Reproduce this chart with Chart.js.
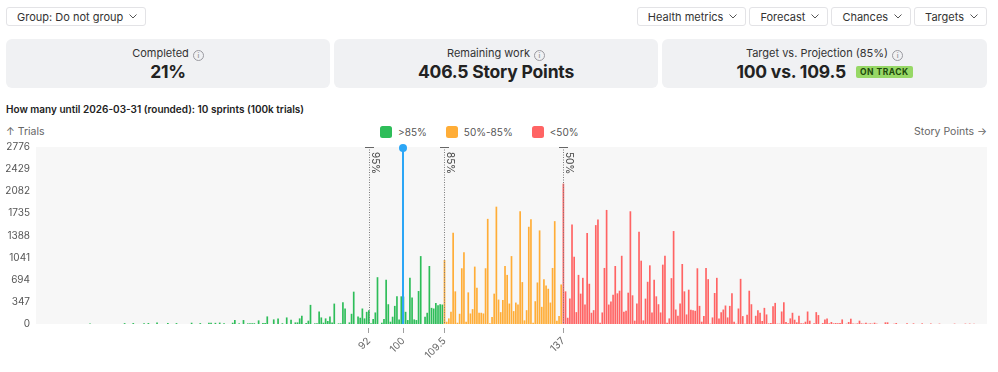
<!DOCTYPE html>
<html>
<head>
<meta charset="utf-8">
<title>Forecast</title>
<script src="https://cdn.jsdelivr.net/npm/chart.js@4.4.1/dist/chart.umd.min.js"></script>
<style>
  body { margin: 0; width: 998px; height: 372px; overflow: hidden; background: #fff; position: relative;
         font-family: Inter, "Noto Sans", sans-serif; color: #222; }
  .btn { position: absolute; top: 7px; height: 19px; box-sizing: border-box; border: 1px solid #e3e3e6; border-radius: 3px;
         background: #fff; font-size: 11px; color: #333; display: flex; align-items: center; gap: 6px;
         padding: 0 8px 0 10px; white-space: nowrap; }
  .toolbar-right { position: absolute; top: 7px; right: 11px; display: flex; gap: 3px; }
  .toolbar-right .btn { position: static; }
  .chev { width: 8px; height: 5px; }
  .card { position: absolute; top: 39px; height: 49px; background: #f0f1f3; border-radius: 6px; }
  .card-title { position: absolute; top: 7px; left: 0; right: 0; text-align: center; font-size: 11px; line-height: 14px; color: #333; }
  .card-value { position: absolute; top: 22px; left: 0; right: 0; display: flex; justify-content: center; align-items: center;
                font-size: 17.5px; line-height: 22px; font-weight: 700; color: #222; letter-spacing: -0.2px; }
  .info { display: inline-block; width: 9px; height: 9px; border: 1px solid #9a9aa0; border-radius: 50%; color: #9a9aa0;
          font-size: 7px; line-height: 9px; text-align: center; margin-left: 4px; vertical-align: -1px; font-weight: 600; }
  .badge { margin-left: 10px; background: #97d866; color: #1e4a0c; font-size: 8.5px; font-weight: 700; letter-spacing: 0.5px;
           line-height: 12px; padding: 0 4px; border-radius: 2px; }
  .chart-title { position: absolute; top: 103px; left: 6px; font-size: 10px; line-height: 12px; font-weight: 600; color: #222; }
  .legend-row { position: absolute; top: 124px; left: 6px; right: 11px; height: 15px; display: flex;
                justify-content: space-between; align-items: center; font-size: 10.5px; color: #666; }
  .legend { display: flex; gap: 19px; font-size: 10px; }
  .legend-item { display: flex; align-items: center; gap: 6px; color: #555; }
  .legend-box { width: 12px; height: 12px; border-radius: 2.5px; }
  .chart-wrap { position: absolute; top: 135px; left: 0; width: 998px; height: 237px; }
</style>
</head>
<body>
<div class="btn" style="left:6px">Group: Do not group <svg class="chev" viewBox="0 0 8 5"><polyline points="0.5,0.5 4,4 7.5,0.5" fill="none" stroke="#555" stroke-width="1"/></svg></div>
<div class="toolbar-right">
  <div class="btn">Health metrics <svg class="chev" viewBox="0 0 8 5"><polyline points="0.5,0.5 4,4 7.5,0.5" fill="none" stroke="#555" stroke-width="1"/></svg></div>
  <div class="btn">Forecast <svg class="chev" viewBox="0 0 8 5"><polyline points="0.5,0.5 4,4 7.5,0.5" fill="none" stroke="#555" stroke-width="1"/></svg></div>
  <div class="btn">Chances <svg class="chev" viewBox="0 0 8 5"><polyline points="0.5,0.5 4,4 7.5,0.5" fill="none" stroke="#555" stroke-width="1"/></svg></div>
  <div class="btn">Targets <svg class="chev" viewBox="0 0 8 5"><polyline points="0.5,0.5 4,4 7.5,0.5" fill="none" stroke="#555" stroke-width="1"/></svg></div>
</div>

<div class="card" style="left:6px;width:324px">
  <div class="card-title">Completed<span class="info">i</span></div>
  <div class="card-value">21%</div>
</div>
<div class="card" style="left:334px;width:324px">
  <div class="card-title">Remaining work<span class="info">i</span></div>
  <div class="card-value">406.5 Story Points</div>
</div>
<div class="card" style="left:662px;width:325px">
  <div class="card-title">Target vs. Projection (85%)<span class="info">i</span></div>
  <div class="card-value">100 vs. 109.5<span class="badge">ON TRACK</span></div>
</div>

<div class="chart-title">How many until 2026-03-31 (rounded): 10 sprints (100k trials)</div>
<div class="legend-row">
  <span>↑ Trials</span>
  <div class="legend" id="legend"></div>
  <span>Story Points →</span>
</div>
<div class="chart-wrap"><canvas id="forecastChart"></canvas></div>

<script>
// histogram bins: story points from binStart, every binStep
const binStart = 15.5
const binStep = 0.5
// trials per bin (10 bins per row)
const trials = [
    0, 0, 0, 0, 0, 0, 0, 0, 0, 0,                       // 15.5 - 20
    0, 0, 0, 0, 0, 0, 0, 0, 0, 0,                       // 20.5 - 25
    0, 0, 0, 0, 8, 0, 0, 0, 0, 0,                       // 25.5 - 30
    0, 0, 0, 0, 0, 0, 0, 0, 0, 0,                       // 30.5 - 35
    14, 0, 0, 0, 15, 0, 0, 0, 0, 10,                    // 35.5 - 40
    0, 15, 0, 0, 0, 24, 0, 0, 0, 0,                     // 40.5 - 45
    15, 0, 0, 0, 14, 0, 0, 0, 0, 0,                     // 45.5 - 50
    0, 20, 0, 0, 0, 14, 0, 0, 0, 18,                    // 50.5 - 55
    20, 0, 18, 0, 22, 0, 12, 0, 0, 0,                   // 55.5 - 60
    20, 62, 0, 10, 0, 62, 0, 10, 12, 10,                // 60.5 - 65
    12, 0, 57, 0, 14, 14, 119, 0, 0, 72,                // 65.5 - 70
    0, 88, 0, 12, 0, 103, 0, 67, 0, 25,                 // 70.5 - 75
    25, 88, 129, 0, 16, 52, 300, 0, 10, 10,             // 75.5 - 80
    196, 103, 20, 88, 47, 119, 25, 320, 0, 10,          // 80.5 - 85
    10, 341, 243, 0, 25, 160, 507, 0, 119, 98,          // 85.5 - 90
    243, 88, 191, 217, 10, 78, 181, 734, 0, 20,         // 90.5 - 95
    78, 693, 310, 36, 114, 284, 434, 72, 434, 430,      // 95.5 - 100
    191, 62, 724, 414, 72, 62, 517, 1065, 0, 114,       // 100.5 - 105
    176, 910, 253, 243, 331, 295, 310, 305, 1003, 36,   // 105.5 - 110
    88, 191, 1432, 512, 20, 160, 874, 1127, 36, 496,    // 110.5 - 115
    165, 233, 900, 569, 176, 176, 165, 874, 1649, 10,   // 115.5 - 120
    109, 476, 1840, 383, 186, 377, 910, 770, 321, 1065, // 120.5 - 125
    202, 336, 305, 1768, 657, 57, 217, 1525, 1644, 20,  // 125.5 - 130
    357, 651, 1468, 269, 703, 605, 553, 336, 879, 1613, // 130.5 - 135
    52, 124, 620, 2202, 512, 98, 398, 1561, 1055, 186,  // 135.5 - 140
    770, 476, 724, 305, 1427, 631, 176, 217, 1551, 1639,// 140.5 - 145
    21, 181, 879, 1789, 305, 352, 460, 910, 481, 522,   // 145.5 - 150
    1070, 191, 207, 491, 1768, 450, 52, 321, 1448, 993, // 150.5 - 155
    57, 398, 662, 920, 181, 693, 434, 310, 181, 931,    // 155.5 - 160
    1070, 21, 88, 719, 1458, 227, 129, 321, 941, 512,   // 160.5 - 165
    150, 538, 222, 217, 207, 874, 284, 36, 124, 879,    // 165.5 - 170
    703, 5, 103, 486, 724, 88, 186, 227, 290, 103,      // 170.5 - 175
    284, 481, 36, 5, 243, 708, 124, 5, 145, 522,        // 175.5 - 180
    310, 5, 129, 217, 176, 47, 253, 150, 10, 15,        // 180.5 - 185
    279, 331, 5, 5, 196, 341, 31, 10, 88, 176,          // 185.5 - 190
    67, 26, 129, 10, 10, 36, 196, 52, 0, 10,            // 190.5 - 195
    186, 140, 0, 15, 72, 88, 10, 31, 10, 15,            // 195.5 - 200
    10, 15, 72, 0, 5, 31, 83, 8, 5, 10,                 // 200.5 - 205
    52, 10, 5, 20, 5, 10, 5, 20, 5, 0,                  // 205.5 - 210
    0, 0, 26, 26, 0, 0, 5, 15, 0, 0,                    // 210.5 - 215
    0, 0, 10, 0, 0, 10, 0, 0, 0, 10,                    // 215.5 - 220
    0, 0, 0, 8, 0, 0, 0, 6, 0, 0,                       // 220.5 - 225
    0, 0, 0, 0, 6, 0, 0, 0, 0, 6,                       // 225.5 - 230
    0, 6, 0, 5, 0, 0, 0, 0, 0                           // 230.5 - 234.5
]

const percentileLabels = ['95%', '85%', '50%']
const percentileValues = [92, 109.5, 137]
const targetValue = 100
const xTickValues = [92, 100, 109.5, 137]
const yMax = 2776
const yStep = 347

const zones = [
    { label: '>85%', color: '#2ebd59', from: -Infinity, to: percentileValues[1] },
    { label: '50%-85%', color: '#ffad37', from: percentileValues[1], to: percentileValues[2] },
    { label: '<50%', color: '#ff6464', from: percentileValues[2], to: Infinity },
]
const targetColor = '#2ba6f6'

const points = trials.map((t, i) => ({ x: binStart + i * binStep, y: t }))

const plotBackground = {
    id: 'plotBackground',
    beforeDatasetsDraw(chart) {
        const { ctx, chartArea } = chart
        ctx.save()
        ctx.fillStyle = '#f7f7f7'
        ctx.fillRect(chartArea.left, chartArea.top, chartArea.right - chartArea.left, chartArea.bottom - chartArea.top)
        ctx.restore()
    }
}

const markerLines = {
    id: 'markerLines',
    afterDatasetsDraw(chart) {
        const { ctx, chartArea, scales } = chart
        ctx.save()
        percentileValues.forEach((v, i) => {
            const px = Math.round(scales.x.getPixelForValue(v)) + 0.5
            ctx.strokeStyle = '#7a7a7a'
            ctx.lineWidth = 1
            ctx.setLineDash([1, 1.5])
            ctx.beginPath()
            ctx.moveTo(px, chartArea.top)
            ctx.lineTo(px, chartArea.bottom)
            ctx.stroke()
            ctx.setLineDash([])
            ctx.strokeStyle = '#666'
            ctx.beginPath()
            ctx.moveTo(px - 4.5, chartArea.top + 0.5)
            ctx.lineTo(px + 4.5, chartArea.top + 0.5)
            ctx.stroke()
            ctx.save()
            ctx.translate(px + 2.5, chartArea.top + 5)
            ctx.rotate(Math.PI / 2)
            ctx.fillStyle = '#444'
            ctx.font = '10px Inter'
            ctx.textAlign = 'left'
            ctx.textBaseline = 'alphabetic'
            ctx.fillText(percentileLabels[i], 0, 0)
            ctx.restore()
        })
        const tx = Math.round(scales.x.getPixelForValue(targetValue))
        ctx.strokeStyle = targetColor
        ctx.lineWidth = 2
        ctx.beginPath()
        ctx.moveTo(tx, chartArea.top)
        ctx.lineTo(tx, chartArea.bottom)
        ctx.stroke()
        ctx.fillStyle = targetColor
        ctx.beginPath()
        ctx.arc(tx, chartArea.top + 1, 4, 0, Math.PI * 2)
        ctx.fill()
        ctx.restore()
    }
}

Chart.defaults.font.family = 'Inter'
const ctx = document.getElementById('forecastChart')
const forecastChart = new Chart(ctx, {
    type: 'bar',
    data: {
        datasets: zones.map(z => ({
            label: z.label,
            data: points.filter(p => p.x >= z.from && p.x < z.to),
            backgroundColor: z.color,
            grouped: false,
            barPercentage: 1,
            categoryPercentage: 0.78,
        }))
    },
    options: {
        responsive: true,
        maintainAspectRatio: false,
        animation: false,
        layout: {
            padding: { top: 4, right: 11, left: 0, bottom: 0 }
        },
        plugins: {
            legend: { display: false },
            tooltip: { enabled: false }
        },
        scales: {
            x: {
                type: 'linear',
                offset: false,
                min: 15,
                max: 235,
                afterBuildTicks: axis => {
                    axis.ticks = xTickValues.map(v => ({ value: v }))
                },
                afterFit: scale => {
                    scale.height = 48
                },
                ticks: {
                    autoSkip: false,
                    minRotation: 45,
                    maxRotation: 45,
                    color: '#666',
                    font: { size: 10 },
                    padding: 2,
                    callback: value => String(value)
                },
                grid: {
                    offset: false,
                    drawOnChartArea: false,
                    tickLength: 9,
                    tickColor: '#a0a0a0',
                    tickBorderDash: [0, 4, 5, 100]
                },
                border: { display: false }
            },
            y: {
                min: 0,
                max: yMax,
                afterFit: scale => {
                    scale.width = 36
                },
                ticks: {
                    stepSize: yStep,
                    color: '#555',
                    font: { size: 10 },
                    padding: 6,
                    callback: value => String(value)
                },
                grid: { display: false, drawTicks: false },
                border: { display: false }
            }
        }
    },
    plugins: [plotBackground, markerLines]
})

// html legend from the datasets
const legendEl = document.getElementById('legend')
forecastChart.data.datasets.forEach(ds => {
    const item = document.createElement('div')
    item.className = 'legend-item'
    item.innerHTML = `<span class="legend-box" style="background:${ds.backgroundColor}"></span><span>${ds.label}</span>`
    legendEl.appendChild(item)
})
</script>
</body>
</html>
